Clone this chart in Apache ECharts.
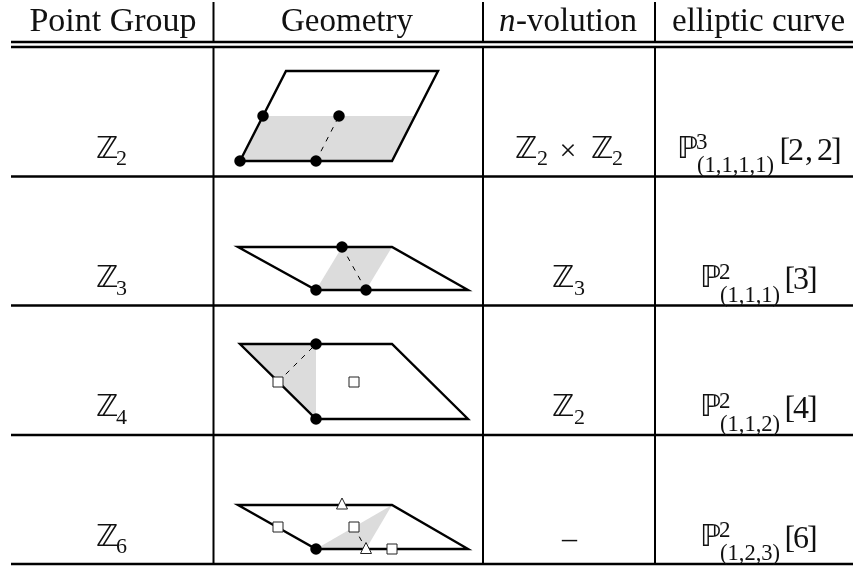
<!DOCTYPE html>
<html><head><meta charset="utf-8">
<style>html,body{margin:0;padding:0;background:#fff}#c{width:853px;height:568px}</style>
<script src="https://cdn.jsdelivr.net/npm/echarts@6/dist/echarts.min.js"></script>
</head><body><div id="c"></div>
<script>
// ---- table content ----
const headers = ['Point Group', 'Geometry', 'n', '-volution', 'elliptic curve'];
const pointGroups = ['2', '3', '4', '6'];
const nVolutions = ['\u2124', '2', '\u00D7', '\u2124', '2', '\u2124', '3', '\u2124', '2', '\u2013'];
const curveSup = ['3', '2', '2', '2'];
const curveSub = ['(1,1,1,1)', '(1,1,1)', '(1,1,2)', '(1,2,3)'];
const curveDeg = [['[', '2', ',', '2', ']'], ['[', '3', ']'], ['[', '4', ']'], ['[', '6', ']']];

// ---- table rules ----
const heavyRules = [[11, 42, 853, 42], [11, 47, 853, 47], [11, 176.5, 853, 176.5], [11, 305.5, 853, 305.5], [11, 435, 853, 435], [11, 564, 853, 564]];
const columnRules = [[213.5, 2, 213.5, 42], [483, 2, 483, 42], [655, 2, 655, 42], [213.5, 47, 213.5, 564], [483, 47, 483, 564], [655, 47, 655, 564]];

// ---- geometry diagrams ----
const outlines = [
  [[240, 161], [392, 161], [438, 71], [286, 71]],
  [[238, 247], [392, 247], [468, 290], [316, 290]],
  [[240, 344], [392, 344], [468, 419], [316, 419]],
  [[238, 505], [392, 505], [468, 549], [316, 549]]
];
const shaded = [
  [[240, 161], [392, 161], [415, 116], [263, 116]],
  [[316, 290], [366, 290], [392, 247], [342, 247]],
  [[240, 344], [316, 344], [316, 419]],
  [[316, 549], [392, 505], [366, 549]]
];
const dashed = [[316, 161, 339, 116], [342, 247, 366, 290], [278, 382, 316, 344], [354, 527, 366, 549]];
const fixedDots = [[240, 161], [316, 161], [263, 116], [339, 116], [342, 247], [316, 290], [366, 290], [316, 344], [316, 419], [316, 549]];
const fixedSquares = [[278, 382], [354, 382], [278, 527], [354, 527], [392, 549]];
const fixedTriangles = [[342, 503.5], [366, 548]];

// ---- text placement ----
const SERIF = '"Liberation Serif"', BB = '"DejaVu Sans"';
const rowBase = [161, 290.5, 419.5, 549];
const texts = [];
function put(text, x, base, size, family, align, italic, sx) {
  texts.push({text, x, base, size, family, align: align || 'left', italic, sx: sx || 1});
}
put(headers[0], 113, 32, 34, SERIF, 'center');
put(headers[1], 347, 32, 33, SERIF, 'center');
put(headers[2], 499, 32, 33, SERIF, 'left', true);
put(headers[3], 516, 32, 33, SERIF, 'left');
put(headers[4], 672, 32, 33, SERIF, 'left');
rowBase.forEach((b, i) => {
  put('\u2124', 96, b, 30, BB);
  put(pointGroups[i], 116, b + 5, 22, SERIF);
});
put(nVolutions[0], 515, rowBase[0], 30, BB);
put(nVolutions[1], 537, rowBase[0] + 5, 22, SERIF);
put(nVolutions[2], 568, rowBase[0], 30, SERIF, 'center');
put(nVolutions[3], 591, rowBase[0], 30, BB);
put(nVolutions[4], 612, rowBase[0] + 5, 22, SERIF);
put(nVolutions[5], 552, rowBase[1], 30, BB);
put(nVolutions[6], 574, rowBase[1] + 5, 22, SERIF);
put(nVolutions[7], 552, rowBase[2], 30, BB);
put(nVolutions[8], 574, rowBase[2] + 5, 22, SERIF);
put(nVolutions[9], 569.5, rowBase[3], 30, SERIF, 'center');
const curveX = [677, 700, 700, 700];
const degX = [[779.5, 788, 805, 817, 831], [784.5, 793, 807], [784.5, 793, 807], [784.5, 793, 807]];
rowBase.forEach((b, i) => {
  put('\u2119', curveX[i], b, 30, BB);
  put(curveSup[i], curveX[i] + 19, b - 11, 23, SERIF);
  put(curveSub[i], curveX[i] + 20, b + 12, 23, SERIF, 'left', false, 0.98);
  curveDeg[i].forEach((g, j) => put(g, degX[i][j], b, 32, SERIF));
});

const polySeries = (polys, style, z) => ({
  type: 'custom', coordinateSystem: 'cartesian2d', silent: true, clip: false, z,
  data: polys.map((_, i) => [i]), encode: {x: -1, y: -1},
  renderItem: (p, api) => ({type: 'polygon', shape: {points: polys[p.dataIndex].map(c => api.coord(c))}, style})
});
const segSeries = (segs, style, z) => ({
  type: 'custom', coordinateSystem: 'cartesian2d', silent: true, clip: false, z,
  data: segs.map((_, i) => [i]), encode: {x: -1, y: -1},
  renderItem: (p, api) => {
    const s = segs[p.dataIndex], a = api.coord([s[0], s[1]]), b = api.coord([s[2], s[3]]);
    return {type: 'line', shape: {x1: a[0], y1: a[1], x2: b[0], y2: b[1]}, style};
  }
});
const marks = (data, symbol, symbolSize, itemStyle, z) => ({type: 'scatter', silent: true, clip: false, z, data, symbol, symbolSize, itemStyle: Object.assign({opacity: 1}, itemStyle)});

const chart = echarts.init(document.getElementById('c'), null, {renderer: 'canvas'});
chart.setOption({
  animation: false,
  backgroundColor: '#fff',
  grid: {left: 0, right: 0, top: 0, bottom: 0},
  xAxis: {type: 'value', min: 0, max: 853, show: false},
  yAxis: {type: 'value', min: 0, max: 568, inverse: true, show: false},
  series: [
    polySeries(shaded, {fill: '#dcdcdc', stroke: null}, 1),
    polySeries(outlines, {fill: 'none', stroke: '#000', lineWidth: 2.4, lineJoin: 'miter'}, 2),
    segSeries(dashed, {stroke: '#000', lineWidth: 1, lineDash: [5, 6]}, 3),
    segSeries(heavyRules, {stroke: '#000', lineWidth: 2.5}, 2),
    segSeries(columnRules, {stroke: '#000', lineWidth: 2}, 2),
    marks(fixedDots, 'circle', 11.5, {color: '#000'}, 5),
    marks(fixedSquares, 'rect', 10, {color: '#fff', borderColor: '#222', borderWidth: 1}, 5),
    marks(fixedTriangles, 'triangle', 11, {color: '#fff', borderColor: '#222', borderWidth: 1}, 5),
    {
      type: 'custom', coordinateSystem: 'cartesian2d', silent: true, clip: false, z: 6,
      data: texts.map((_, i) => [i]), encode: {x: -1, y: -1},
      renderItem: (p, api) => {
        const t = texts[p.dataIndex], c = api.coord([t.x, t.base]);
        const k = t.family === BB ? 0.36 : 0.30;
        return {type: 'text', x: c[0], y: c[1] - k * t.size, scaleX: t.sx, style: {
          text: t.text, x: 0, y: 0, fontSize: t.size, fontFamily: t.family,
          fontStyle: t.italic ? 'italic' : 'normal', fill: '#111', align: t.align, verticalAlign: 'middle'
        }};
      }
    }
  ]
});
</script></body></html>
